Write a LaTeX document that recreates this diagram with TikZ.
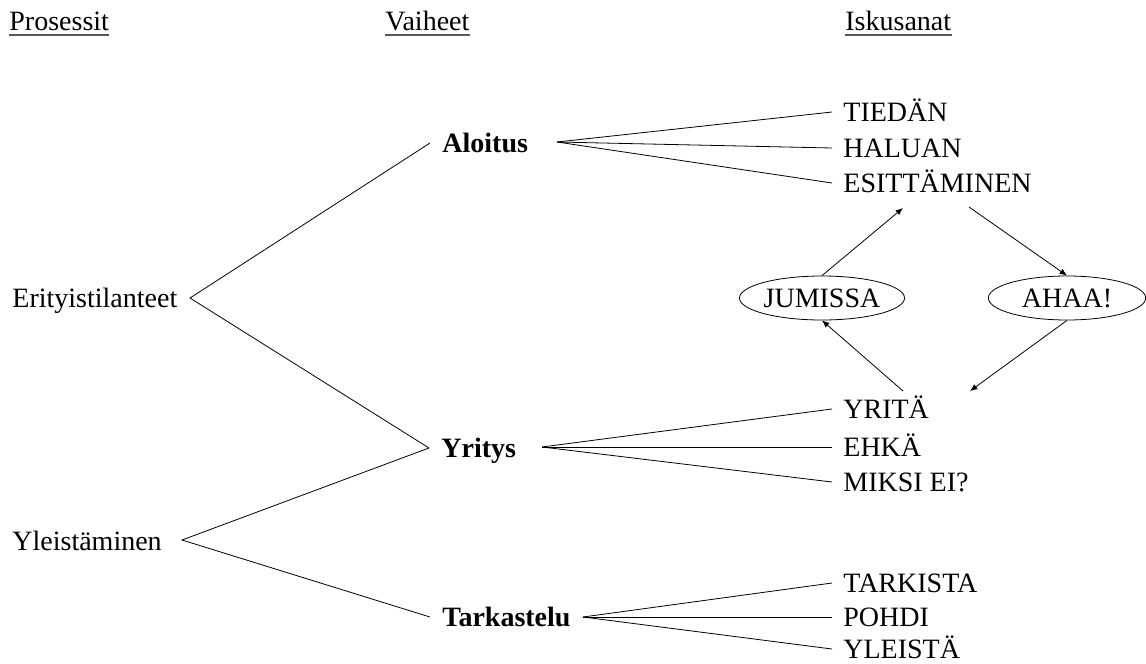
\documentclass[tikz,border=0pt]{standalone}
\usepackage{fontspec}
\setmainfont{Liberation Serif}
\usetikzlibrary{shapes.geometric,arrows.meta}
\begin{document}
\begin{tikzpicture}[x=0.75pt,y=-0.75pt,line width=0.6pt,
  font=\fontsize{21pt}{25pt}\selectfont,>={Latex[length=5.5pt,width=4.5pt]},
  teksti/.style={inner ysep=0pt,text height=14pt,text depth=0pt,anchor=west},
  otsikko/.style={teksti,inner xsep=0pt},
  prosessi/.style={teksti,inner xsep=0pt},
  vaihe/.style={teksti,inner xsep=9pt,font=\fontsize{21pt}{25pt}\selectfont\bfseries},
  sana/.style={teksti,inner xsep=8.25pt},
  kupla/.style={draw,ellipse,inner sep=0pt,text height=14pt,text depth=0pt,
    minimum width=118pt,minimum height=33pt},
  alleviiva/.style={line width=1.3pt,black!65}]
  \useasboundingbox (0,0) rectangle (1146,664);
  % otsikot
  \node[otsikko] (h1) at (9,21) {Prosessit};
  \node[otsikko] (h2) at (385,21) {Vaiheet};
  \node[otsikko] (h3) at (845,21) {Iskusanat};
  \foreach \h in {h1,h2,h3}
    \draw[alleviiva] ([yshift=-3.5pt]\h.base west) -- ([yshift=-3.5pt]\h.base east);
  % prosessit
  \node[prosessi] (eri) at (12,298) {Erityistilanteet};
  \node[prosessi] (yle) at (12,541) {Yleistäminen};
  % vaiheet
  \node[vaihe] (alo) at (430,143) {Aloitus};
  \node[vaihe] (yri) at (429,448) {Yritys};
  \node[vaihe] (tar) at (430,617) {Tarkastelu};
  % iskusanat
  \node[sana] (k1) at (832,112) {TIEDÄN};
  \node[sana] (k2) at (832,148) {HALUAN};
  \node[sana] (k3) at (832,183) {ESITTÄMINEN};
  \node[sana] (k4) at (832,409) {YRITÄ};
  \node[sana] (k5) at (832,447) {EHKÄ};
  \node[sana] (k6) at (832,482) {MIKSI EI?};
  \node[sana] (k7) at (832,583) {TARKISTA};
  \node[sana] (k8) at (832,617) {POHDI};
  \node[sana] (k9) at (832,649) {YLEISTÄ};
  % haarojen kärjet
  \coordinate (eriR) at (190,298);
  \coordinate (yleR) at (182,540);
  \coordinate (aloR) at (557,142);
  \coordinate (yriR) at (542,447);
  \coordinate (tarR) at (583,617);
  \draw (alo.west) -- (eriR) -- (yri.west);
  \draw (yri.west) -- (yleR) -- (tar.west);
  \foreach \k in {k1,k2,k3} \draw (aloR) -- (\k.west);
  \foreach \k in {k4,k5,k6} \draw (yriR) -- (\k.west);
  \foreach \k in {k7,k8,k9} \draw (tarR) -- (\k.west);
  % kierre
  \node[kupla] (jum) at (822,298) {JUMISSA};
  \node[kupla] (aha) at (1067,298) {AHAA!};
  \coordinate (esiL) at (903,208);
  \coordinate (esiR) at (969,207);
  \coordinate (yrL) at (903,391);
  \coordinate (yrR) at (970,391);
  \draw[->] (jum.north) -- (esiL);
  \draw[->] (esiR) -- (aha.north);
  \draw[->] (aha.south) -- (yrR);
  \draw[->] (yrL) -- (jum.south);
\end{tikzpicture}
\end{document}
